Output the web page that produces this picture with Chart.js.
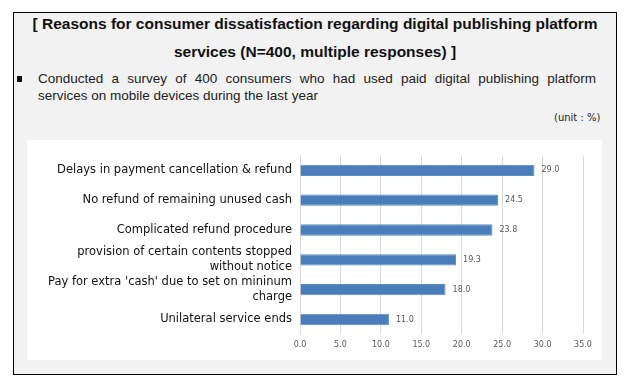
<!DOCTYPE html>
<html>
<head>
<meta charset="utf-8">
<script src="https://cdn.jsdelivr.net/npm/chart.js@4.4.0/dist/chart.umd.min.js"></script>
<style>
  body { margin: 0; background: #fff; font-family: "DejaVu Sans", sans-serif; }
  #frame { position: absolute; left: 13px; top: 12px; width: 602px; height: 361px;
           border: 1.5px solid #000; background: #f2f2f2; }
  #title { position: absolute; left: 0; top: -3px; width: 602px; text-align: center; white-space: nowrap;
           font-family: "Liberation Sans", sans-serif;
           font-weight: bold; font-size: 15.5px; line-height: 28px; color: #111; }
  #note { position: absolute; left: 24px; top: 57px; width: 558px; font-size: 13.5px;
          font-family: "Liberation Sans", sans-serif;
          line-height: 17px; color: #222; }
  #note .l1 { text-align: justify; text-align-last: justify; white-space: nowrap; }
  #note:before { content: ""; position: absolute; left: -21px; top: 6px; width: 5px; height: 6px; background: #111; }
  #unit { position: absolute; left: 540px; top: 99px; font-size: 10px; color: #222; }
  #panel { position: absolute; left: 13px; top: 127px; width: 575px; height: 220px; background: #fff; }
</style>
</head>
<body>
<div id="frame">
  <div id="title">[ Reasons for consumer dissatisfaction regarding digital publishing platform<br>services (N=400, multiple responses) ]</div>
  <div id="note"><div class="l1">Conducted a survey of 400 consumers who had used paid digital publishing platform</div><div>services on mobile devices during the last year</div></div>
  <div id="unit">(unit : %)</div>
  <div id="panel"><canvas id="myChart" width="575" height="220"></canvas></div>
</div>
<script>
const categories = [
  'Delays in payment cancellation & refund',
  'No refund of remaining unused cash',
  'Complicated refund procedure',
  ['provision of certain contents stopped', 'without notice'],
  ["Pay for extra 'cash' due to set on mininum", 'charge'],
  'Unilateral service ends'
];
const values = [29.0, 24.5, 23.8, 19.3, 18.0, 11.0];
const tickLabels = ['0.0', '5.0', '10.0', '15.0', '20.0', '25.0', '30.0', '35.0'];

// draws the value next to each bar
const valueLabels = {
  id: 'valueLabels',
  afterDatasetsDraw(chart) {
    const ctx = chart.ctx;
    ctx.save();
    ctx.font = '8px "DejaVu Sans"';
    ctx.fillStyle = '#595959';
    ctx.textBaseline = 'middle';
    chart.getDatasetMeta(0).data.forEach((bar, i) => {
      ctx.fillText(values[i].toFixed(1), bar.x + 7, bar.y);
    });
    ctx.restore();
  }
};

const data = {
  labels: categories,
  datasets: [{
    data: values,
    backgroundColor: '#4a7ebb',
    borderColor: '#5b8cc6',
    borderWidth: 1,
    barPercentage: 0.38,
    categoryPercentage: 1
  }]
};

const config = {
  type: 'bar',
  data,
  options: {
    indexAxis: 'y',
    responsive: false,
    animation: false,
    layout: { padding: { top: 11, right: 19, left: 0, bottom: 4 } },
    plugins: { legend: { display: false }, tooltip: { enabled: false } },
    scales: {
      x: {
        min: 0,
        max: 35,
        ticks: {
          stepSize: 5,
          color: '#595959',
          font: { family: 'DejaVu Sans', size: 8 },
          padding: 6,
          callback: (v, i) => tickLabels[i]
        },
        grid: { color: '#d9d9d9', drawTicks: false },
        border: { display: false }
      },
      y: {
        afterFit: (scale) => { scale.width = 273; },
        ticks: {
          autoSkip: false,
          color: '#111',
          font: { family: 'DejaVu Sans', size: 11.5, lineHeight: 1.3 },
          padding: 8
        },
        grid: { display: false, drawTicks: false },
        border: { color: '#d9d9d9' }
      }
    }
  },
  plugins: [valueLabels]
};

const myChart = new Chart(document.getElementById('myChart'), config);
</script>
</body>
</html>
